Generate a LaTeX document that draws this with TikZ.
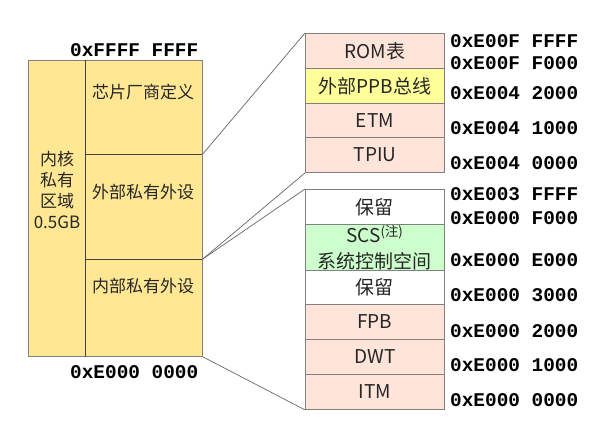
\documentclass[tikz,border=0pt]{standalone}
\usepackage{fontspec}
\setmainfont{Noto Sans CJK SC}
\newfontfamily\addrfont{Liberation Mono}
\definecolor{lyellow}{RGB}{255,231,148}
\definecolor{pinkc}{RGB}{255,228,218}
\definecolor{ppbc}{RGB}{255,255,153}
\definecolor{greenc}{RGB}{204,255,204}
\definecolor{edgegray}{RGB}{128,128,128}
\definecolor{inkline}{RGB}{64,64,64}
\begin{document}
\begin{tikzpicture}[x=1pt,y=-1pt,
  lcell/.style={draw=inkline,fill=lyellow,line width=0.8pt,inner sep=0pt,anchor=north west},
  rcell/.style={draw=edgegray,line width=0.9pt,inner sep=0pt,anchor=north west,minimum width=139pt,
     font=\fontsize{19}{20}\selectfont,text=black!85},
  ltext/.style={font=\fontsize{17}{21}\selectfont,text=black!85,inner sep=0pt},
  addr/.style={font=\addrfont\bfseries\fontsize{19.4}{20}\selectfont,anchor=west,inner sep=0pt},
  conn/.style={draw=black!60,line width=0.7pt}]
\useasboundingbox (0,0) rectangle (593,438);
% left block
\node[lcell,minimum width=57pt,minimum height=296pt] (core) at (28,60) {};
\node[lcell,minimum width=117pt,minimum height=94pt] (vendor) at (85,60) {};
\node[lcell,minimum width=117pt,minimum height=105pt] (ext) at (85,154) {};
\node[lcell,minimum width=117pt,minimum height=97pt] (int) at (85,259) {};
\draw[edgegray,line width=0.8pt] (core.north west) -- (vendor.north east) -- (int.south east) -- (core.south west) -- cycle;
\draw[inkline,line width=0.8pt] (core.north east) -- (core.south east);
\node[ltext,align=center] (coretxt) at (57,190) {内核\\私有\\区域\\0.5GB};
\node[ltext] (vendortxt) at (143,92) {芯片厂商定义};
\node[ltext] (exttxt) at (143,192) {外部私有外设};
\node[ltext] (inttxt) at (143,286) {内部私有外设};
\node[addr] (atop) at (70,50) {0xFFFF FFFF};
\node[addr] (abot) at (70,372) {0xE000 0000};
% top right stack
\node[rcell,fill=pinkc,minimum height=35pt] (rom) at (305,33) {ROM表};
\node[rcell,fill=ppbc,minimum height=35pt] (ppb) at (305,68) {外部PPB总线};
\node[rcell,fill=pinkc,minimum height=34pt] (etm) at (305,103) {ETM};
\node[rcell,fill=pinkc,minimum height=35pt] (tpiu) at (305,137) {TPIU};
% bottom right stack
\node[rcell,fill=white,minimum height=35pt] (res1) at (305,189) {保留};
\node[rcell,fill=greenc,minimum height=46pt,align=center,font=\fontsize{19}{26}\selectfont] (scs) at (305,224) {SCS\textsuperscript{(注)}\\系统控制空间};
\node[rcell,fill=white,minimum height=34pt] (res2) at (305,270) {保留};
\node[rcell,fill=pinkc,minimum height=35pt] (fpb) at (305,304) {FPB};
\node[rcell,fill=pinkc,minimum height=35pt] (dwt) at (305,339) {DWT};
\node[rcell,fill=pinkc,minimum height=35pt] (itm) at (305,374) {ITM};
% connectors
\draw[conn] (ext.north east) -- (rom.north west);
\draw[conn] (int.north east) -- (tpiu.south west);
\draw[conn] (int.north east) -- (res1.north west);
\draw[conn] (int.south east) -- (itm.south west);
% addresses
\node[addr] (a1) at (450,41) {0xE00F FFFF};
\node[addr] (a2) at (450,63) {0xE00F F000};
\node[addr] (a3) at (450,93) {0xE004 2000};
\node[addr] (a4) at (450,128) {0xE004 1000};
\node[addr] (a5) at (450,163) {0xE004 0000};
\node[addr] (b1) at (450,194) {0xE003 FFFF};
\node[addr] (b2) at (450,218) {0xE000 F000};
\node[addr] (b3) at (450,260) {0xE000 E000};
\node[addr] (b4) at (450,295) {0xE000 3000};
\node[addr] (b5) at (450,331) {0xE000 2000};
\node[addr] (b6) at (450,365) {0xE000 1000};
\node[addr] (b7) at (450,400) {0xE000 0000};
\end{tikzpicture}
\end{document}
